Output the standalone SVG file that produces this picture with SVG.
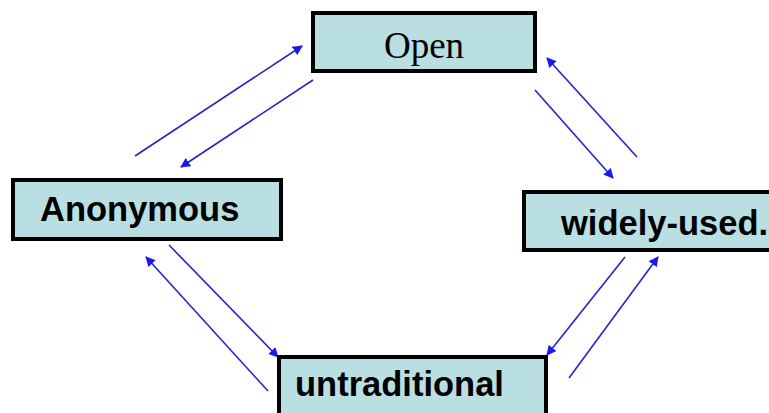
<svg xmlns="http://www.w3.org/2000/svg" width="769" height="413" viewBox="0 0 769 413">
<style>
.box{fill:#b9dfe2;stroke:#000;stroke-width:4}
.lbl{font-family:"Liberation Sans",Arial,sans-serif;font-weight:bold;font-size:34.5px;fill:#000}
.serif{font-family:"Liberation Serif","Times New Roman",serif;font-size:37px;fill:#000}
.arr{stroke:#2424c8;stroke-width:1.6;fill:none;marker-end:url(#ah)}
</style>
<defs>
<marker id="ah" viewBox="0 0 10 10" refX="9" refY="5" markerWidth="10" markerHeight="10" markerUnits="userSpaceOnUse" orient="auto">
<path d="M0,0 L10,5 L0,10 z" fill="#1a1aee"/>
</marker>
</defs>
<rect width="769" height="413" fill="#fff"/>
<g id="connectors">
<line class="arr" x1="135" y1="156" x2="302" y2="46"/>
<line class="arr" x1="313" y1="80" x2="181" y2="167"/>
<line class="arr" x1="637" y1="157" x2="547" y2="58"/>
<line class="arr" x1="535" y1="90" x2="613" y2="178"/>
<line class="arr" x1="169" y1="245" x2="278" y2="357"/>
<line class="arr" x1="268" y1="391" x2="146" y2="257"/>
<line class="arr" x1="625" y1="257" x2="547" y2="355"/>
<line class="arr" x1="569" y1="378" x2="658" y2="257"/>
</g>
<g id="node-open">
<rect class="box" x="313" y="13" width="222" height="58"/>
<text class="serif" x="424" y="58" text-anchor="middle">Open</text>
</g>
<g id="node-anonymous">
<rect class="box" x="13" y="180" width="268" height="59"/>
<text class="lbl" x="40" y="221">Anonymous</text>
</g>
<g id="node-widely-used">
<rect class="box" x="524" y="192" width="260" height="58"/>
<text class="lbl" x="561" y="235">widely-used.</text>
</g>
<g id="node-untraditional">
<rect class="box" x="279" y="357" width="267" height="70"/>
<text class="lbl" x="295" y="396">untraditional</text>
</g>
</svg>
